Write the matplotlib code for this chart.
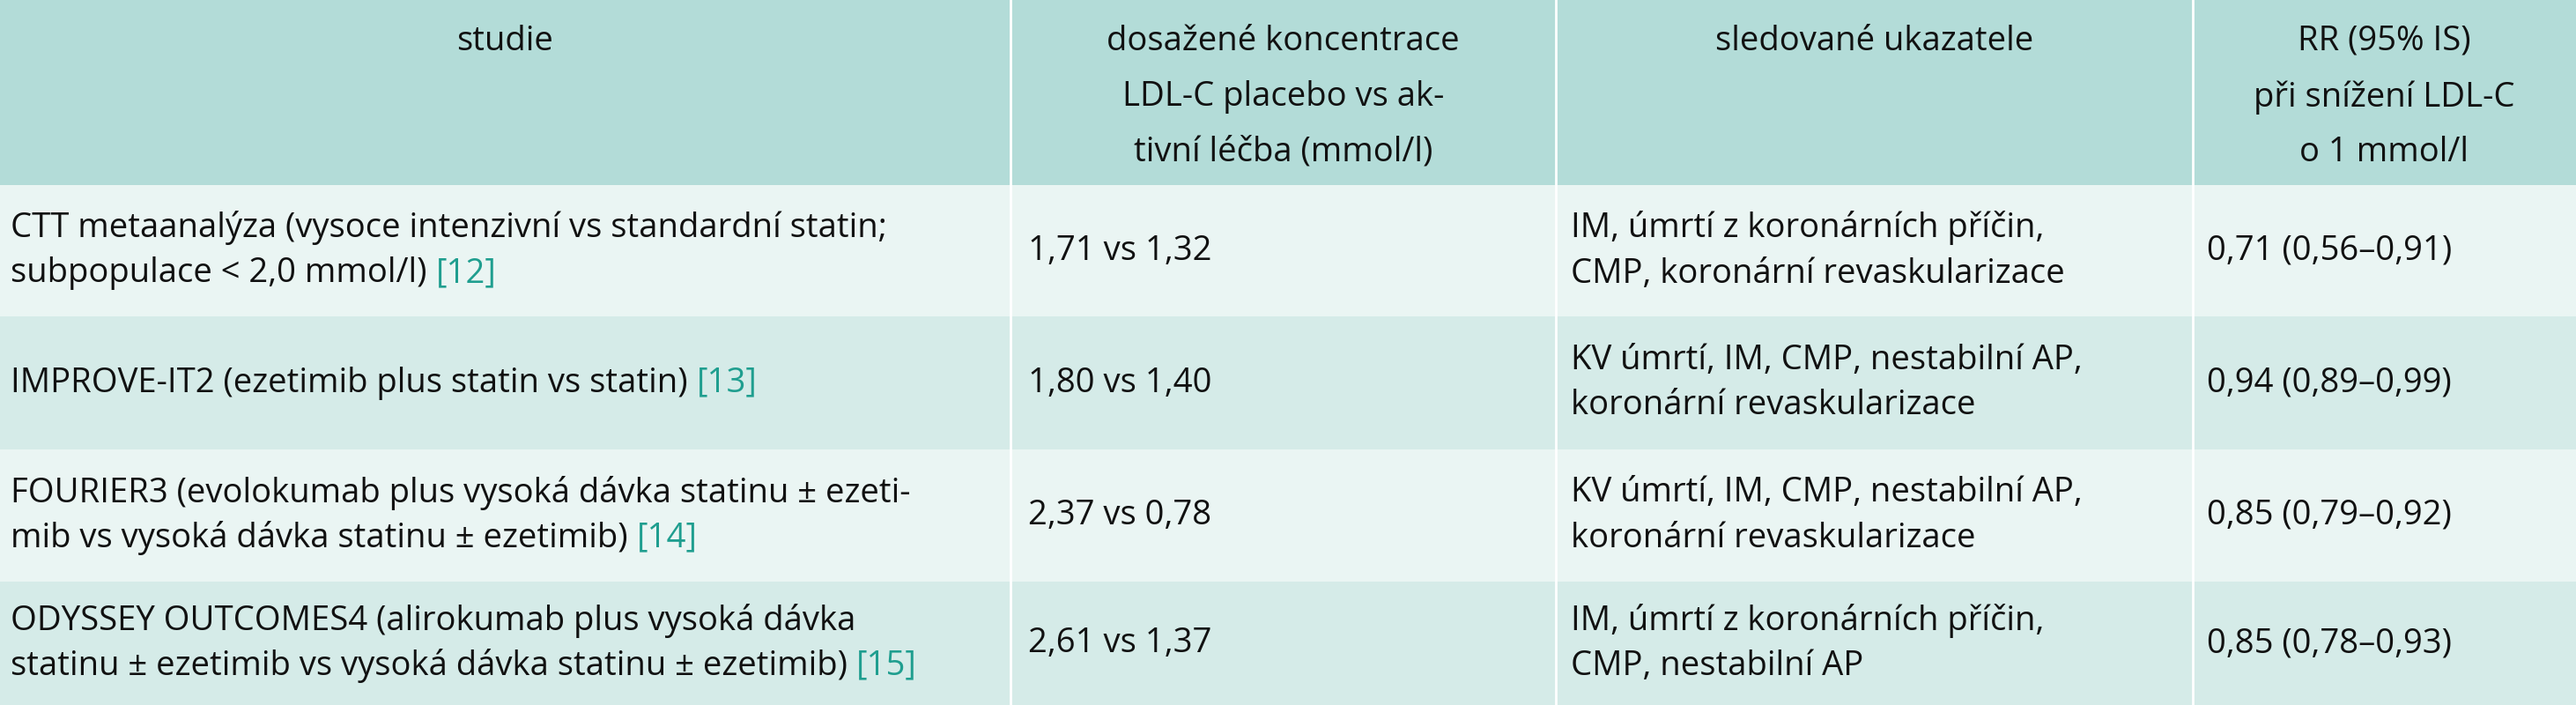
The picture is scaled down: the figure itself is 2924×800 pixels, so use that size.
import matplotlib
matplotlib.use("Agg")
import matplotlib.pyplot as plt
from matplotlib.patches import Rectangle

headers = ["studie", "dosažené koncentrace\nLDL-C placebo vs ak-\ntivní léčba (mmol/l)",
           "sledované ukazatele", "RR (95% IS)\npři snížení LDL-C\no 1 mmol/l"]
studies = [["CTT metaanalýza (vysoce intenzivní vs standardní statin;", "subpopulace < 2,0 mmol/l)"],
           ["IMPROVE-IT2 (ezetimib plus statin vs statin)"],
           ["FOURIER3 (evolokumab plus vysoká dávka statinu ± ezeti-", "mib vs vysoká dávka statinu ± ezetimib)"],
           ["ODYSSEY OUTCOMES4 (alirokumab plus vysoká dávka", "statinu ± ezetimib vs vysoká dávka statinu ± ezetimib)"]]
refs = ["[12]", "[13]", "[14]", "[15]"]
conc = ["1,71 vs 1,32", "1,80 vs 1,40", "2,37 vs 0,78", "2,61 vs 1,37"]
endpoints = ["IM, úmrtí z koronárních příčin,\nCMP, koronární revaskularizace",
             "KV úmrtí, IM, CMP, nestabilní AP,\nkoronární revaskularizace",
             "KV úmrtí, IM, CMP, nestabilní AP,\nkoronární revaskularizace",
             "IM, úmrtí z koronárních příčin,\nCMP, nestabilní AP"]
rr = ["0,71 (0,56–0,91)", "0,94 (0,89–0,99)", "0,85 (0,79–0,92)", "0,85 (0,78–0,93)"]

plt.rcParams['font.family'] = ['Open Sans', 'DejaVu Sans']
FS = 27.5
W, H = 2924, 800
fig = plt.figure(figsize=(W/100, H/100), dpi=100)
ax = fig.add_axes([0, 0, 1, 1])
ax.set_xlim(0, W); ax.set_ylim(H, 0); ax.axis('off')

cols = [0, 1147, 1766, 2489, W]
rows = [0, 210, 359, 510, 660, H]
hdr_c = "#b3dcd8"
row_c = ["#eaf5f3", "#d5ebe8"]
ref_c = "#1f9e8f"
txt_c = "#111111"

ax.add_patch(Rectangle((0, 0), W, rows[1], color=hdr_c, lw=0))
for i in range(4):
    ax.add_patch(Rectangle((0, rows[i+1]), W, rows[i+2]-rows[i+1], color=row_c[i % 2], lw=0))
for x in cols[1:-1]:
    ax.plot([x, x], [0, H], color="white", lw=2)

for j, h in enumerate(headers):
    ax.text((cols[j]+cols[j+1])/2, 28, h, ha='center', va='top', fontsize=FS,
            linespacing=1.85, color=txt_c, fontweight='medium')

fig.canvas.draw()
r = fig.canvas.get_renderer()
LH = 51
for i in range(4):
    yc = (rows[i+1]+rows[i+2])/2
    lines = studies[i]
    n = len(lines)
    for k, ln in enumerate(lines):
        y = yc + (k - (n-1)/2) * LH
        t = ax.text(12, y, ln, ha='left', va='center', fontsize=FS, color=txt_c)
        if k == n-1:
            bb = t.get_window_extent(renderer=r)
            x_end = ax.transData.inverted().transform((bb.x1, bb.y0))[0]
            ax.text(x_end + 10, y, refs[i], ha='left', va='center', fontsize=FS, color=ref_c)
    ax.text(cols[1]+20, yc, conc[i], ha='left', va='center', fontsize=FS, color=txt_c)
    ax.text(cols[2]+17, yc, endpoints[i], ha='left', va='center', fontsize=FS,
            linespacing=1.45, color=txt_c)
    ax.text(cols[3]+16, yc, rr[i], ha='left', va='center', fontsize=FS, color=txt_c)

fig.savefig("out.png", dpi=100)
